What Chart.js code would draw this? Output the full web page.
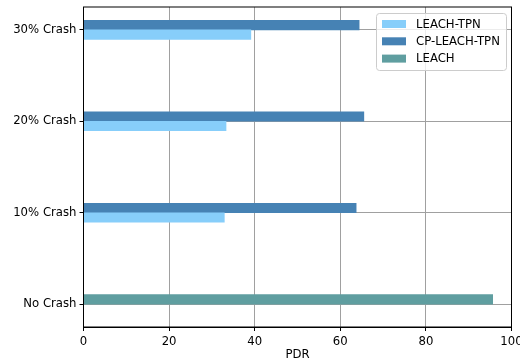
<!DOCTYPE html>
<html>
<head>
<meta charset="utf-8">
<script src="https://cdn.jsdelivr.net/npm/chart.js@4"></script>
<style>
  html, body { margin: 0; padding: 0; background: #fff; }
  canvas { display: block; }
</style>
</head>
<body>
<canvas id="grafico" width="520" height="362"></canvas>
<script>
// categorias de abajo hacia arriba
const categories = ["No Crash", "10% Crash", "20% Crash", "30% Crash"];
const leachTpn = [null, 32.9, 33.3, 39.1];
const cpLeachTpn = [null, 63.7, 65.5, 64.4];
const leach = [95.6, null, null, null];
const xTicks = [0, 20, 40, 60, 80, 100];

const FONT = "'DejaVu Sans', sans-serif";
const FSIZE = 11.7;
const half = 0.052; // media barra en unidades del eje

// convierte una serie en puntos {x, y} con desplazamiento
const toPoints = (values, offset) =>
  values.map((v, i) => (v === null ? null : { x: v, y: i + offset })).filter((p) => p);

// leyenda dibujada dentro del area (estilo matplotlib)
const innerLegend = {
  id: "innerLegend",
  afterDraw(chart) {
    const ctx = chart.ctx;
    const x0 = 376.5, y0 = 13.5, w = 130, h = 57;
    ctx.save();
    ctx.fillStyle = "rgba(255,255,255,0.8)";
    ctx.strokeStyle = "#cccccc";
    ctx.lineWidth = 1;
    ctx.beginPath();
    ctx.roundRect(x0, y0, w, h, 3);
    ctx.fill();
    ctx.stroke();
    ctx.font = FSIZE + "px " + FONT;
    ctx.textBaseline = "middle";
    chart.data.datasets.forEach((ds, i) => {
      const cy = 24 + i * 17.3;
      ctx.fillStyle = ds.backgroundColor;
      ctx.fillRect(382, cy - 4, 24, 8);
      ctx.fillStyle = "#000";
      ctx.fillText(ds.label, 416, cy + 0.5);
    });
    ctx.restore();
  },
};

const ctx = document.getElementById("grafico");

new Chart(ctx, {
  type: "bar",
  data: {
    datasets: [
      {
        label: "LEACH-TPN",
        data: toPoints(leachTpn, -half),
        backgroundColor: "#87CEFA",
      },
      {
        label: "CP-LEACH-TPN",
        data: toPoints(cpLeachTpn, half),
        backgroundColor: "#4682B4",
      },
      {
        label: "LEACH",
        data: toPoints(leach, half),
        backgroundColor: "#5F9EA0",
      },
    ],
  },
  options: {
    indexAxis: "y",
    responsive: false,
    animation: false,
    devicePixelRatio: 1,
    grouped: false,
    barThickness: 9.5,
    borderWidth: 0,
    layout: { padding: { top: 7, right: 8.5, left: 0, bottom: 0 } },
    scales: {
      x: {
        type: "linear",
        min: 0,
        max: 100,
        afterBuildTicks: (axis) => {
          axis.ticks = xTicks.map((v) => ({ value: v }));
        },
        afterFit: (axis) => {
          axis.height = 35;
          axis.paddingLeft = 0;
          axis.paddingRight = 0;
        },
        ticks: {
          color: "#000",
          font: { family: FONT, size: FSIZE },
          padding: 4,
          maxRotation: 0,
        },
        grid: {
          color: "#a0a0a0",
          lineWidth: 1,
          tickColor: "#000",
          tickLength: 4,
        },
        border: { color: "#000", width: 1 },
        title: {
          display: true,
          text: "PDR",
          color: "#000",
          font: { family: FONT, size: FSIZE },
          padding: { top: 0, bottom: 0 },
        },
      },
      y: {
        type: "linear",
        offset: false,
        min: -0.25,
        max: 3.25,
        afterBuildTicks: (axis) => {
          axis.ticks = categories.map((c, i) => ({ value: i }));
        },
        afterFit: (axis) => {
          axis.width = 83.5;
          axis.paddingTop = 0;
          axis.paddingBottom = 0;
        },
        ticks: {
          color: "#000",
          font: { family: FONT, size: FSIZE },
          padding: 3,
          callback: (v) => categories[v],
        },
        grid: {
          offset: false,
          color: "#a0a0a0",
          lineWidth: 1,
          tickColor: "#000",
          tickLength: 4,
        },
        border: { color: "#000", width: 1 },
      },
    },
    plugins: {
      legend: { display: false },
      tooltip: { enabled: false },
    },
  },
  plugins: [
    innerLegend,
    {
      id: "marco",
      afterDraw(chart) {
        const a = chart.chartArea;
        const c = chart.ctx;
        c.save();
        c.strokeStyle = "#000";
        c.lineWidth = 1;
        c.strokeRect(a.left, a.top, a.right - a.left, a.bottom - a.top);
        c.restore();
      },
    },
  ],
});
</script>
</body>
</html>
